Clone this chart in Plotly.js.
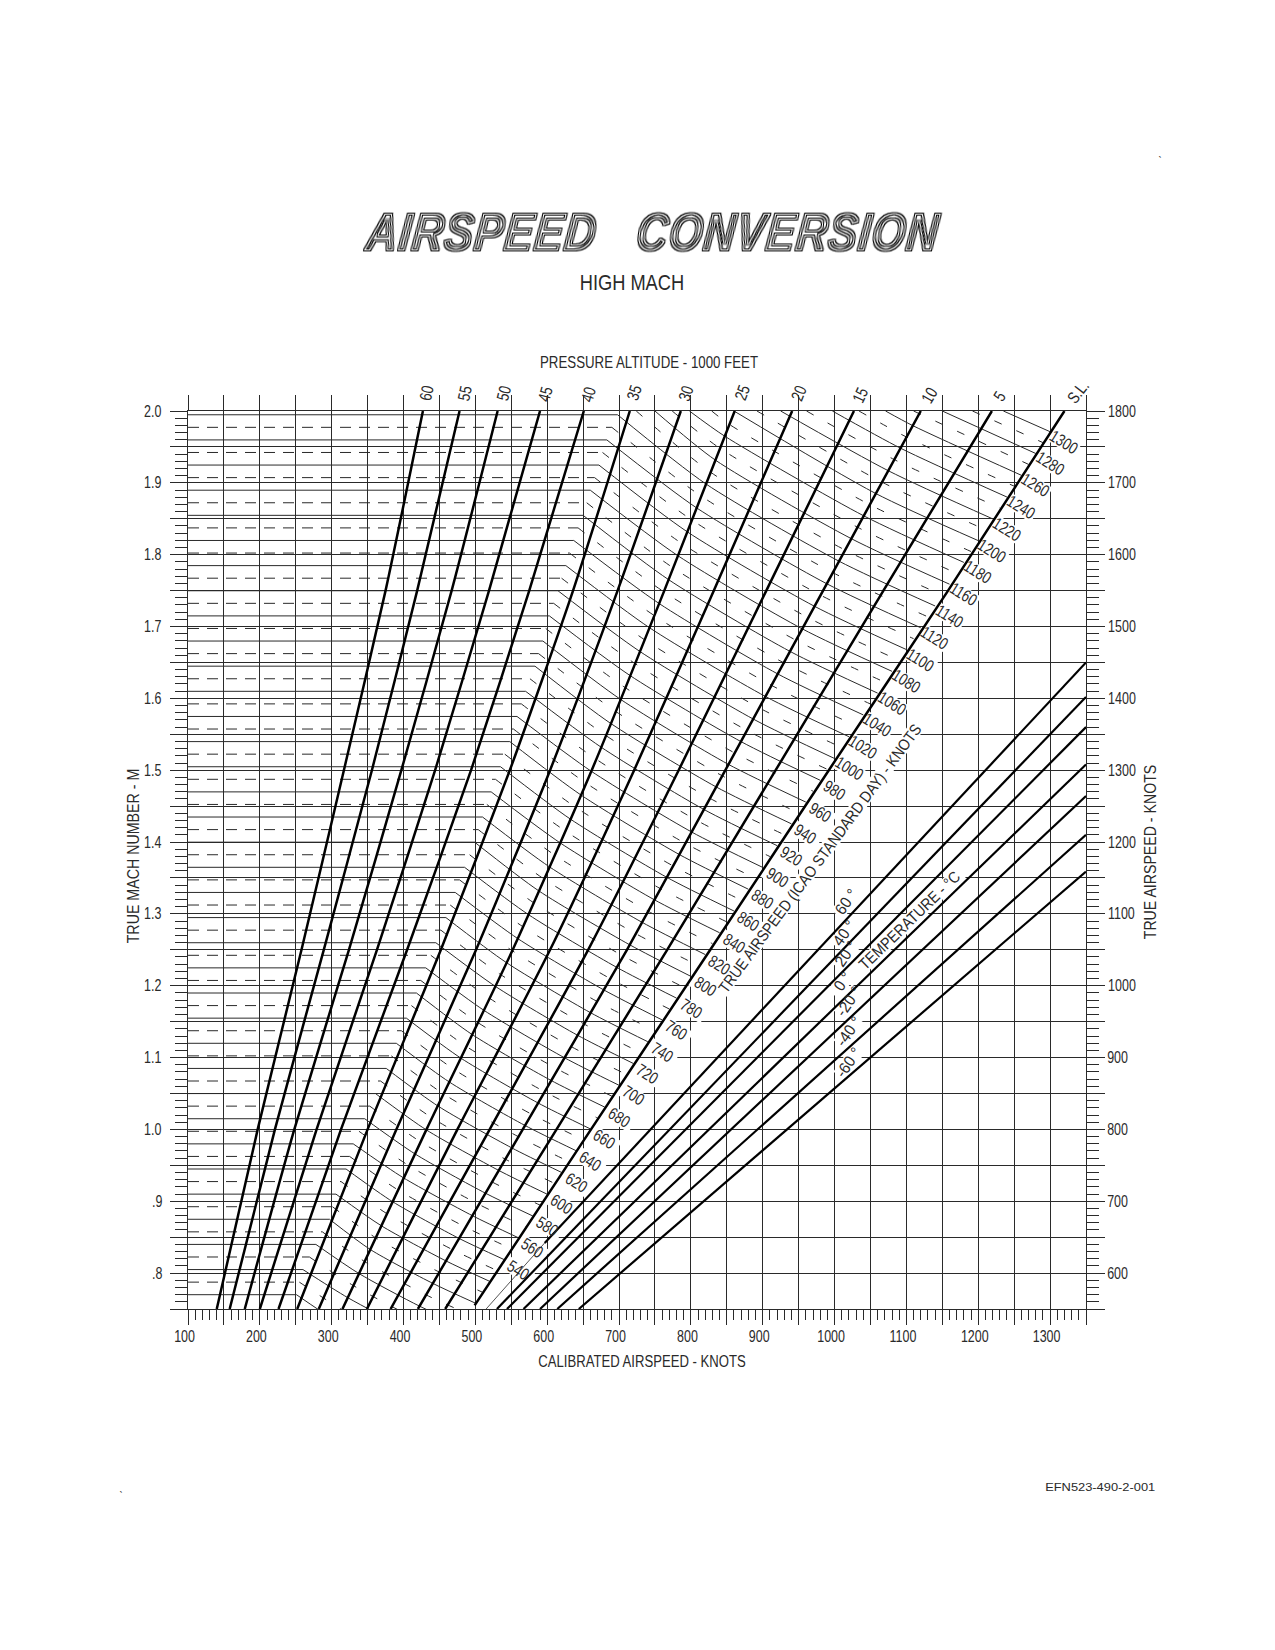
<!DOCTYPE html>
<html><head><meta charset="utf-8">
<script src="https://cdn.plot.ly/plotly-3.0.1.min.js"></script>
<style>
html,body{margin:0;padding:0;background:#fff}
.gtitle{filter:url(#rings);letter-spacing:1.5px}
</style></head><body>
<svg width="0" height="0" style="position:absolute"><defs>
<filter id="rings" x="-3%" y="-20%" width="106%" height="140%" color-interpolation-filters="sRGB">
<feMorphology in="SourceAlpha" operator="dilate" radius="1" result="d"/>
<feFlood flood-color="#fff" result="w"/>
<feComposite in="w" in2="SourceAlpha" operator="in" result="ring1"/>
<feMorphology in="SourceAlpha" operator="erode" radius="1" result="e1"/>
<feMorphology in="SourceAlpha" operator="erode" radius="2" result="e2"/>
<feComposite in="w" in2="e2" operator="in" result="ring3"/>
<feMerge><feMergeNode in="d"/><feMergeNode in="ring1"/><feMergeNode in="e1"/><feMergeNode in="ring3"/></feMerge>
</filter></defs></svg>
<div id="chart" style="width:1275px;height:1650px"></div>
<script>
// ---- altitude curves: calibrated airspeed (knots) at each Mach station
const machStations=[0.75,1.0,1.25,1.5,1.75,2.0];
const altitudeNames=['60','55','50','45','40','35','30','25','20','15','10','5','S.L.'];
const cas60=[140,197,258,317,375,427];
const cas55=[158,221,289,356,419,478];
const cas50=[179,248,324,397,467,531];
const cas45=[200,279,363,444,519,590];
const cas40=[226,313,405,494,575,651];
const cas35=[252,350,452,548,636,715];
const cas30=[282,390,501,604,698,786];
const cas25=[315,432,552,662,763,861];
const cas20=[349,475,604,721,832,941];
const cas15=[382,520,657,783,905,1027];
const cas10=[420,566,711,848,984,1120];
const cas5=[458,613,767,918,1068,1219];
const casSL=[499,661,827,992,1158,1320];
const machSL=[0.755,1.0,1.25,1.5,1.75,2.0];
// ---- true airspeed lines: speed of sound (knots)
const soundTropo=571.5, sound25k=600.5, sound10k=636.5, soundSL=659.5;
// [TAS, CAS at tropopause kink, CAS at 25000 ft, CAS at 10000 ft]
const tasSolid=[[440,251,307,386],[460,260,322,404],[480,278,338,422],[500,297,354,441],[520,306,369,459],[540,320,385,477],[560,330,400,496],[580,346,416,514],[600,361,432,533],[620,376,448,551],[640,390,464,569],[660,404,480,587],[680,418,495,605],[700,431,512,624],[720,445,528,642],[740,459,543,660],[760,472,559,679],[780,485,574,697],[800,499,588,715],[820,510,603,732],[840,522,618,749],[860,535,632,766],[880,548,647,784],[900,558,661,801],[920,570,675,818],[940,583,688,835],[960,594,702,852],[980,603,715,870],[1000,615,729,887],[1020,626,742,904],[1040,637,756,921],[1060,650,769,938],[1080,660,782,955],[1100,672,795,972],[1120,683,808,989],[1140,698,821,1006]];
const tasDashed=[[450,255,314,395],[470,269,330,413],[490,287,346,431],[510,301,361,450],[530,313,377,468],[550,325,392,486],[570,338,408,505],[590,353,424,523],[610,368,440,542],[630,383,456,560],[650,397,472,578],[670,411,487,596],[690,424,503,614],[710,438,520,633],[730,452,535,651],[750,465,551,669],[770,478,566,688],[790,492,581,706],[810,504,595,723],[830,516,610,740],[850,528,625,757],[870,541,639,775],[890,553,654,792],[910,564,668,809],[930,576,681,826],[950,588,695,843],[970,598,708,861],[990,609,722,878],[1010,620,735,895],[1030,631,749,912],[1050,643,762,929],[1070,655,775,946],[1090,666,788,963],[1110,677,801,980],[1130,690,814,997]];
// lines reaching the top edge (Mach 2.0): [TAS, CAS at top, CAS at 25000 ft or null, CAS at 10000 ft or null]
const tasTopSolid=[[1160,750,834,1023],[1180,798,847,1041],[1200,860,null,1057],[1220,925,null,1075],[1240,997,null,1092],[1260,1071,null,1109],[1280,1150,null,null],[1300,1235,null,null]];
const tasTopDashed=[[1150,724,827,1014],[1170,774,840,1032],[1190,829,853,1049],[1210,892,null,1066],[1230,961,null,1083],[1250,1034,null,1100],[1270,1110,null,null],[1290,1192,null,null]];
// ---- temperature lines: CAS and TAS-axis value at both ends
const tempNames=['60 °','40 °','20 °','0 °','-20 °','-40 °','-60 °'];
const tempCasStart=[596.5,530,544,567,590,614,644];
const tempTasStart=[642,550,550,550,550,550,550];
const tempTasEnd=[1450,1402,1360,1308,1264,1210,1159];
const tempCasEnd=1350;
const temp60ThinCas=[515,596.5], temp60ThinTas=[550,642];
// ---- axis labels
const casTicks=[100,150,200,250,300,350,400,450,500,550,600,650,700,750,800,850,900,950,1000,1050,1100,1150,1200,1250,1300,1350];
const casText=['100','','200','','300','','400','','500','','600','','700','','800','','900','','1000','','1100','','1200','','1300',''];
const machTicks=[0.75,0.8,0.85,0.9,0.95,1,1.05,1.1,1.15,1.2,1.25,1.3,1.35,1.4,1.45,1.5,1.55,1.6,1.65,1.7,1.75,1.8,1.85,1.9,1.95,2];
const machText=['','.8','','.9','','1.0','','1.1','','1.2','','1.3','','1.4','','1.5','','1.6','','1.7','','1.8','','1.9','','2.0'];
const tasTicks=[550,600,650,700,750,800,850,900,950,1000,1050,1100,1150,1200,1250,1300,1350,1400,1450,1500,1550,1600,1650,1700,1750,1800];
const tasText=['','600','','700','','800','','900','','1000','','1100','','1200','','1300','','1400','','1500','','1600','','1700','','1800'];
const tasLabels=[540,560,580,600,620,640,660,680,700,720,740,760,780,800,820,840,860,880,900,920,940,960,980,1000,1020,1040,1060,1080,1100,1120,1140,1160,1180,1200,1220,1240,1260,1280,1300];

// ---- style and layout
const FONT='"Liberation Sans",sans-serif', INK='#2a2a2a';
const PL=188.3,PR=1086.3,PT=410.7,PB=1309.3;
const px=x=>(x-PL)/(PR-PL), py=y=>(PB-y)/(PB-PT);
const casOfPx=p=>100+(p-PL)/(PR-PL)*1250, machOfPx=p=>0.75+(PB-p)/(PB-PT)*1.25;
const altitudeCas=[cas60,cas55,cas50,cas45,cas40,cas35,cas30,cas25,cas20,cas15,cas10,cas5,casSL];
const traces=[];
function tasTraces(rows,topRows,hDash,sDash){
  const hx=[],hy=[],sx=[],sy=[];
  rows.forEach(r=>{
    const t=r[0],mk=t/soundTropo;
    hx.push(100,r[1],null);hy.push(mk,mk,null);
    sx.push(r[1],r[2],r[3],t,null);
    sy.push(mk,t/sound25k,t/sound10k,t/soundSL,null);
  });
  topRows.forEach(r=>{
    const t=r[0];sx.push(r[1]);sy.push(2);
    if(r[2]!==null){sx.push(r[2]);sy.push(t/sound25k);}
    if(r[3]!==null){sx.push(r[3]);sy.push(t/sound10k);}
    sx.push(t,null);sy.push(t/soundSL,null);
  });
  traces.push({x:hx,y:hy,mode:'lines',line:{color:INK,width:1,dash:hDash},hoverinfo:'skip'});
  traces.push({x:sx,y:sy,mode:'lines',line:{color:INK,width:1,dash:sDash,shape:'spline',smoothing:0.7},hoverinfo:'skip'});
}
tasTraces(tasSolid,tasTopSolid,'solid','solid');
tasTraces(tasDashed,tasTopDashed,'11px,8px','8px,16px');
// white knock-outs behind the rotated labels (grid and thin lines stop there, heavy curves pass over)
const maskX=[],maskY=[];
function knockout(cx,cy,angleDeg,half){
  const a=angleDeg*Math.PI/180,dx=Math.cos(a)*half,dy=Math.sin(a)*half;
  maskX.push(casOfPx(cx-dx),casOfPx(cx+dx),null);maskY.push(machOfPx(cy-dy),machOfPx(cy+dy),null);
}
const pxOfCas=c=>PL+(c-100)/1250*(PR-PL), pxOfMach=m=>PB-(m-0.75)/1.25*(PB-PT);
tasLabels.forEach(t=>knockout(pxOfCas(t)+14,pxOfMach(t/soundSL)+10.5,32,16));
knockout(820,858,-53.5,172);
knockout(910,921,-44,76);
const tempPos=[[846.7,901.7],[845,933],[846.7,954],[843,981.7],[849,1001.7],[849,1031.7],[849,1063]];
tempPos.forEach(p=>knockout(p[0],p[1],-55,16));
traces.push({x:maskX,y:maskY,mode:'lines',line:{color:'#fff',width:15},hoverinfo:'skip'});
altitudeCas.forEach((c,i)=>traces.push({x:c,y:i===12?machSL:machStations,mode:'lines',name:altitudeNames[i],
  line:{color:'#000',width:2.5,shape:'spline',smoothing:0.6},hoverinfo:'skip'}));
tempNames.forEach((n,i)=>traces.push({x:[tempCasStart[i],tempCasEnd],y:[tempTasStart[i],tempTasEnd[i]],xaxis:'x2',yaxis:'y2',mode:'lines',name:n,
  line:{color:'#000',width:2.2},hoverinfo:'skip'}));
traces.push({x:temp60ThinCas,y:temp60ThinTas,xaxis:'x2',yaxis:'y2',mode:'lines',line:{color:INK,width:0.8},hoverinfo:'skip'});

function ann(text,x,y,size,angle,extra){
  return Object.assign({text:text,x:px(x),y:py(y),xref:'paper',yref:'paper',showarrow:false,xanchor:'center',yanchor:'middle',
    textangle:angle||0,font:{family:FONT,size:size,color:INK}},extra||{});
}
const annotations=[];
annotations.push(ann('HIGH MACH',632,282,22));
annotations.push(ann('EFN523-490-2-001',1100,1487,11.5));
annotations.push(ann('`',1160,162,12));
annotations.push(ann('`',121,1497,12));
const altPos=[[426.7,392.7,-78],[465,392.7,-78],[504,392.7,-76],[545.7,394,-75],[589,394,-73],[634.3,392.7,-72],[686.7,393.3,-72],[742.3,392.7,-70],[799,392.7,-68],[860.7,395,-65],[930,395,-60],[1000,396,-57],[1078,391.7,-52]];
altitudeNames.forEach((n,i)=>annotations.push(ann(n,altPos[i][0],altPos[i][1],17,altPos[i][2])));
tasLabels.forEach(t=>annotations.push({text:String(t),x:t,y:t/soundSL,xref:'x',yref:'y',xshift:14,yshift:-10.5,showarrow:false,
  textangle:32,xanchor:'center',yanchor:'middle',font:{family:FONT,size:17,color:INK}}));
annotations.push(ann('TRUE AIRSPEED (ICAO STANDARD DAY) - KNOTS',820,858,16,-53.5));
annotations.push(ann('TEMPERATURE - °C',910,921,16,-44));
tempNames.forEach((n,i)=>annotations.push(ann(n,tempPos[i][0],tempPos[i][1],16,-55)));

const tickBase={ticks:'outside',tickwidth:1,tickcolor:INK,tickmode:'array',showline:true,linecolor:INK,linewidth:1,zeroline:false,
  tickfont:{family:FONT,size:16,color:INK},gridcolor:INK,gridwidth:1};
const titleFont={family:FONT,size:16,color:INK};
const layout={width:1275,height:1650,margin:{l:PL,r:1275-PR,t:PT,b:1650-PB,pad:0,autoexpand:false},
  paper_bgcolor:'#fff',plot_bgcolor:'#fff',showlegend:false,
  title:{text:'AIRSPEED   CONVERSION',x:650/1275,xref:'container',y:1-232/1650,yref:'container',xanchor:'center',yanchor:'middle',
    font:{family:FONT,size:54,weight:700,style:'italic',color:'#000'}},
  xaxis:Object.assign({},tickBase,{range:[100,1350],tickvals:casTicks,ticktext:casText.map(s=>s?s+'\u00a0\u00a0':s),ticklen:15,showgrid:true,ticklabelstandoff:-2,
    minor:{tick0:100,dtick:10,ticks:'outside',ticklen:10,tickwidth:1,tickcolor:INK,showgrid:false},
    title:{text:'CALIBRATED AIRSPEED - KNOTS',font:titleFont,standoff:11}}),
  yaxis:Object.assign({},tickBase,{range:[0.75,2],tickvals:machTicks,ticktext:machText,ticklen:17,showgrid:true,ticklabelstandoff:3,
    minor:{tick0:0.75,dtick:0.01,ticks:'outside',ticklen:12,tickwidth:1,tickcolor:INK,showgrid:false},
    title:{text:'TRUE MACH NUMBER - M',font:titleFont,standoff:0}}),
  xaxis2:Object.assign({},tickBase,{range:[100,1350],overlaying:'x',side:'top',anchor:'y2',tickvals:casTicks,ticktext:casTicks.map(()=>''),ticklen:15,showgrid:false,
    title:{text:'PRESSURE ALTITUDE - 1000 FEET',font:titleFont,standoff:19}}),
  yaxis2:Object.assign({},tickBase,{range:[550,1800],overlaying:'y',side:'right',anchor:'x2',tickvals:tasTicks,ticktext:tasText,ticklen:18,showgrid:false,ticklabelstandoff:-4,
    minor:{tick0:550,dtick:10,ticks:'outside',ticklen:12,tickwidth:1,tickcolor:INK,showgrid:false},
    title:{text:'TRUE AIRSPEED - KNOTS',font:titleFont,standoff:0}}),
  annotations:annotations};
// the drawing's lettering is condensed: narrow each text element around its own centre
function condense(){
  document.querySelectorAll('#chart svg text').forEach(t=>{
    const s=t.textContent||'';
    if(!s.trim())return;
    let k=0.78,pre='',skew='';
    if(s.indexOf('AIRSPEED')===0){k=0.80;const b0=t.getBBox();skew=' translate(0,'+(b0.y+b0.height)+') skewX(-8) translate(0,'+(-(b0.y+b0.height))+')';}
    else if(s.indexOf('TRUE AIRSPEED (')===0)k=0.87;
    else if(s.indexOf('TEMPERATURE')===0)k=0.88;
    else if(s.indexOf('EFN')===0)k=1.12;
    else if(s.indexOf('°')>=0)k=0.95;
    else if(s==='TRUE MACH NUMBER - M'){k=0.89;pre='translate(3,-4) ';}
    else if(s==='TRUE AIRSPEED - KNOTS'){k=0.885;pre='translate(2.5,-8) ';}
    else if(s.indexOf('PRESSURE')===0){k=0.83;pre='translate(12,0) ';}
    else if(s.indexOf('CALIBRATED')===0){k=0.82;pre='translate(5,0) ';}
    else if(s==='HIGH MACH')k=0.83;
    const b=t.getBBox(),c=b.x+b.width/2,old=t.getAttribute('transform')||'';
    t.setAttribute('transform',pre+old+' translate('+c+',0) scale('+k+',1) translate('+(-c)+',0)'+skew);
  });
}
Plotly.newPlot('chart',traces,layout,{displayModeBar:false,staticPlot:true}).then(condense);
</script></body></html>
